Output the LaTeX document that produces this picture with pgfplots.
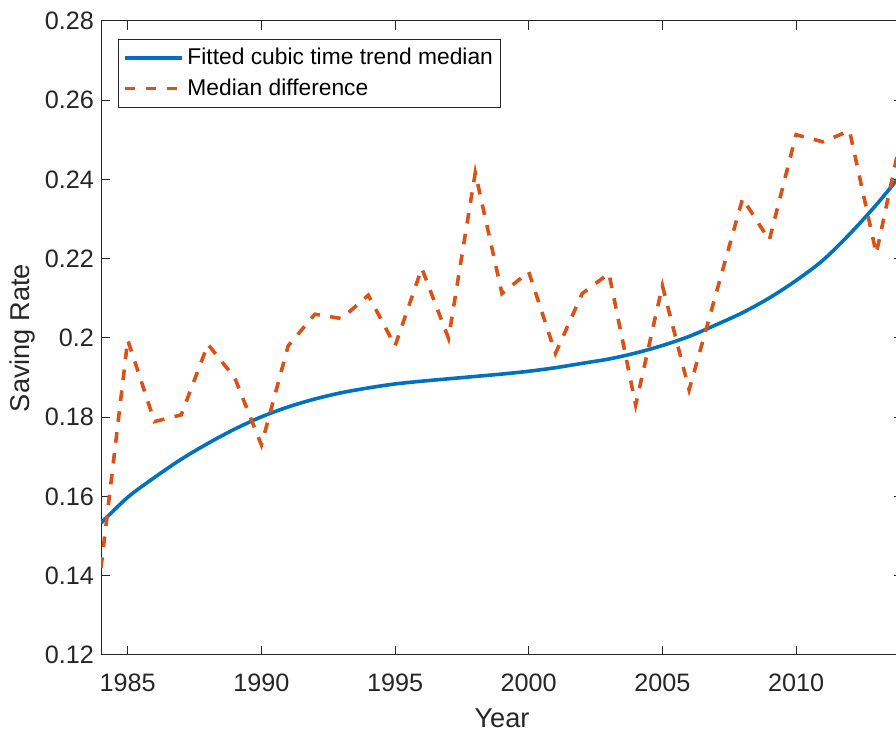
\documentclass[border=0pt]{standalone}
\usepackage{fontspec}
\setmainfont{Liberation Sans}
\usepackage{pgfplots}
\pgfplotsset{compat=1.18}
\definecolor{mblue}{rgb}{0,0.447,0.741}
\definecolor{morange}{rgb}{0.85,0.325,0.098}
\definecolor{maxis}{rgb}{0.15,0.15,0.15}
\begin{document}
\begin{tikzpicture}
\useasboundingbox (0,0) rectangle (448pt,365.5pt);
\begin{axis}[
  at={(50.5pt,38pt)}, anchor=south west,
  scale only axis, width=401pt, height=317pt,
  xmin=1984, xmax=2014, ymin=0.12, ymax=0.28,
  xtick={1985,1990,1995,2000,2005,2010},
  ytick={0.12,0.14,0.16,0.18,0.2,0.22,0.24,0.26,0.28},
  yticklabels={0.12,0.14,0.16,0.18,0.2,0.22,0.24,0.26,0.28},
  xticklabel style={/pgf/number format/1000 sep={}, yshift=-6pt},
  /pgf/number format/assume math mode=true,
  tick label style={font=\fontsize{12.6}{14}\selectfont, text=maxis},
  label style={font=\fontsize{13.6}{16}\selectfont, text=maxis},
  axis line style={maxis, line width=0.5pt},
  major tick length=4.5pt,
  tick style={maxis, line width=0.5pt},
  xlabel={Year}, ylabel={Saving Rate},
  xlabel style={at={(axis description cs:0.5,0)}, anchor=center, yshift=-31.5pt},
  ylabel style={at={(axis description cs:0,0.5)}, anchor=center, yshift=39.5pt},
  legend style={at={(axis description cs:0,1)}, anchor=north west, xshift=8.7pt, yshift=-8.8pt,
    draw=maxis, line width=0.5pt, font=\fontsize{11.4}{13}\selectfont,
    inner xsep=2pt, inner ysep=2.5pt, row sep=1.5pt, cells={anchor=west}},
  legend image code/.code={\draw[#1] (0pt,0pt) -- (28.5pt,0pt);},
]
\addplot[mblue, line width=1.8pt, smooth] coordinates {
(1984,0.1533) (1985,0.1598) (1986,0.1648) (1987,0.1694) (1988,0.1734)
(1989,0.1770) (1990,0.1801) (1991,0.1826) (1992,0.1846) (1993,0.1862)
(1994,0.1874) (1995,0.1884) (1996,0.1891) (1997,0.1897) (1998,0.1903)
(1999,0.1909) (2000,0.1916) (2001,0.1925) (2002,0.1936) (2003,0.1947)
(2004,0.1962) (2005,0.1981) (2006,0.2004) (2007,0.2033) (2008,0.2064)
(2009,0.2101) (2010,0.2145) (2011,0.2196) (2012,0.2262) (2013,0.2336)
(2014,0.2418)};
\addlegendentry{Fitted cubic time trend median}
\addplot[morange, line width=1.8pt, dash pattern=on 5.3pt off 5.2pt] coordinates {
(1984,0.142) (1985,0.1995) (1986,0.1789) (1987,0.1806) (1988,0.1984)
(1989,0.190) (1990,0.173) (1991,0.198) (1992,0.206) (1993,0.2049)
(1994,0.2108) (1995,0.198) (1996,0.2176) (1997,0.1999) (1998,0.2417)
(1999,0.2112) (2000,0.2167) (2001,0.1961) (2002,0.2112) (2003,0.2163)
(2004,0.1831) (2005,0.2132) (2006,0.1869) (2007,0.211) (2008,0.2352)
(2009,0.2247) (2010,0.2513) (2011,0.2495) (2012,0.2523) (2013,0.2213)
(2014,0.253)};
\addlegendentry{Median difference}
\end{axis}
\end{tikzpicture}
\end{document}
